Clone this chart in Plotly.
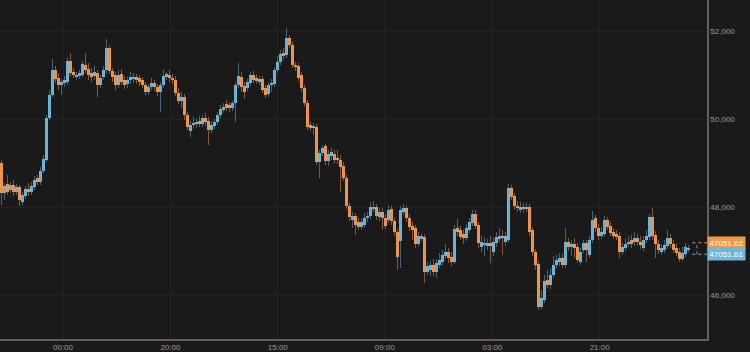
import plotly.graph_objects as go

# ---------------- data ----------------
OPEN = [49000,48318,48523,48386,48500,48341,48455,48114,48250,48409,48341,48455,48659,48568,48818,49068,50023,50545,51114,50932,
        50773,50818,50841,51318,51068,50955,50977,51000,51227,51136,51045,50977,51045,50773,50955,51114,51614,51091,51000,50773,
        51023,50886,50796,50886,50909,50955,50932,50886,50773,50614,50727,50818,50727,50614,50773,50977,51000,50932,50886,50591,
        50409,50500,50091,49727,49864,49886,49955,49886,50023,49955,49750,49841,49932,50091,50205,50341,50318,50250,50364,50773,
        50955,50750,50705,50818,51000,50932,50841,50909,50705,50568,50773,50796,51114,51296,51500,51455,51841,51682,51227,51205,
        51000,50705,50364,49864,49795,49818,49023,49227,49386,49045,49159,49205,49114,49068,48932,48659,48023,47705,47795,47659,
        47545,47591,47750,47795,47955,48000,47773,47886,47750,47705,47955,47682,47432,47227,47886,47977,47750,47568,47523,47159,
        47295,47318,46523,46568,46682,46523,46682,46750,46886,46977,46864,46750,47523,47477,47386,47295,47477,47636,47841,47591,
        47091,47136,47114,47182,46977,47182,47273,47341,47205,47250,48432,48250,48023,47932,48000,47955,48000,47477,46977,46705,
        45727,45886,46341,46227,46455,46682,46750,46841,46682,47205,47091,47159,47091,46750,47023,47182,46909,47250,47750,47523,
        47341,47386,47705,47568,47432,47386,47341,46977,47068,47159,47250,47205,47295,47205,47068,47250,47318,47773,47364,47159,
        46977,47023,47114,47295,47159,47068,46977,46818,46932,47023]
HIGH = [49068,48545,48727,48568,48614,48523,48500,48341,48477,48545,48568,48705,48727,48909,49182,50091,50659,51364,51205,51045,
        50909,50977,51386,51500,51159,51068,51114,51318,51500,51273,51159,51205,51114,51000,51205,51818,51682,51159,51068,51114,
        51136,50977,50955,51068,51045,51023,51000,50955,50841,50796,50932,50886,50796,50841,51136,51068,51114,51023,50977,50705,
        50614,50568,50159,49955,50045,50023,50068,50091,50136,50045,49955,50000,50159,50318,50364,50432,50386,50409,50841,51273,
        51068,50841,50909,51068,51091,51023,50977,50977,50773,50841,50909,51182,51432,51568,51614,52069,51909,51750,51296,51273,
        51068,50773,50432,49932,49909,49886,49295,49409,49432,49295,49341,49295,49295,49182,49023,48727,48091,47886,47864,47750,
        47727,47864,47886,48114,48136,48068,47977,47977,47841,48045,48023,47750,47500,48023,48068,48045,47841,47659,47591,47432,
        47409,47386,46750,46773,46818,46818,46955,47023,47159,47068,46977,47591,47727,47568,47477,47614,47750,47932,47932,47659,
        47341,47318,47273,47341,47295,47432,47523,47477,47432,48523,48500,48318,48136,48114,48091,48091,48068,47545,47045,46773,
        46114,46455,46568,46614,46886,46909,46955,46932,47523,47295,47250,47295,47182,47068,47250,47250,47341,47909,47818,47614,
        47545,47795,47773,47659,47523,47477,47432,47182,47295,47341,47364,47432,47386,47341,47341,47477,47841,47977,47455,47250,
        47159,47250,47477,47386,47250,47182,47068,47091,47182,47136]
LOW = [48045,48159,48273,48318,48250,48273,48023,48045,48182,48250,48273,48386,48500,48500,48773,49023,49977,50500,50818,50659,
       50545,50727,50773,50977,50932,50886,50909,50955,51045,50886,50841,50886,50500,50705,50886,51045,51023,50841,50659,50705,
       50773,50682,50705,50796,50818,50796,50750,50705,50545,50545,50659,50636,50523,50159,50705,50886,50841,50796,50523,50341,
       50250,49977,49750,49591,49773,49795,49818,49818,49841,49409,49682,49773,49864,50023,50136,50182,50159,50182,49932,50705,
       50614,50455,50636,50750,50818,50796,50773,50591,50477,50500,50614,50727,51045,51227,51341,51386,51614,51159,51091,50864,
       50614,50295,49750,49727,49636,48955,48659,49159,48955,48932,49068,49000,48977,48341,48591,47955,47682,47523,47364,47477,
       47477,47523,47659,47727,47886,47705,47682,47477,47500,47636,47591,47341,46568,46614,47818,47659,47455,47250,47068,47091,
       47227,46273,46455,46432,46432,46386,46614,46682,46818,46727,46659,46705,47341,47250,47159,47227,47409,47568,47500,47068,
       46977,46886,47023,46727,46886,47091,47205,46909,47114,47182,48159,47932,47886,47864,47864,47886,47341,46886,46568,45659,
       45682,45818,46159,46136,46386,46614,46659,46614,46614,47000,46886,46841,46727,46682,46955,46750,46841,47182,47432,47250,
       47273,47318,47477,47341,47273,47250,46841,46909,47000,47091,47068,47114,47114,47045,47000,47182,47250,47250,46841,46932,
       46909,46955,47045,47068,46955,46886,46750,46773,46864,46977]
CLOSE = [48318,48477,48341,48500,48341,48455,48159,48273,48409,48341,48477,48614,48568,48818,49091,50023,50545,51114,50909,50773,
         50841,50886,51318,51045,51000,51000,51045,51250,51114,51000,50955,51068,50773,50932,51114,51614,51091,50955,50773,51000,
         50841,50773,50886,50955,50955,50886,50841,50773,50614,50727,50818,50727,50614,50773,50977,51000,50932,50886,50591,50409,
         50500,50091,49818,49864,49909,49932,49886,50023,49932,49750,49864,49932,50091,50227,50273,50250,50250,50364,50773,50977,
         50727,50614,50841,51000,50886,50864,50909,50659,50545,50773,50818,51114,51296,51477,51432,51841,51682,51227,51182,50932,
         50705,50364,49818,49795,49841,49023,49227,49341,49045,49205,49250,49068,49068,48909,48659,48023,47773,47795,47591,47545,
         47659,47750,47795,48000,48000,47795,47886,47750,47568,47932,47682,47432,46864,47932,47977,47750,47545,47477,47159,47341,
         47318,46523,46659,46682,46523,46727,46795,46909,46977,46841,46750,47500,47432,47318,47295,47523,47659,47841,47568,47182,
         47205,47182,47182,47114,47205,47318,47341,47295,47341,48432,48227,48023,47977,48000,47955,48000,47432,46977,46682,45727,
         45932,46318,46227,46455,46682,46795,46841,46682,47205,47091,47159,47068,46795,46977,47182,47023,47250,47705,47523,47341,
         47432,47705,47545,47409,47341,47318,46977,47091,47159,47205,47159,47295,47205,47136,47250,47341,47773,47341,47159,47023,
         47068,47136,47295,47159,47023,46955,46818,46955,47091,47052]

TICK_POS = [20.5, 56.3, 92.1, 127.8, 163.6, 199.4]
TICK_TEXT = ["00:00", "20:00", "15:00", "09:00", "03:00", "21:00"]
Y_TICKS = [46000, 48000, 50000, 52000]
LAST_ASK = 47051.62
LAST_BID = 47051.61

# ---------------- styling ----------------
BG = "#1a1a1a"
GRID = "#222222"
AXIS = "#606060"
TXT = "#9a9a9a"
BLUE = "#72b6d8"
ORANGE = "#f0974c"
BLUE_W = "rgba(100,165,200,0.55)"
ORANGE_W = "rgba(225,140,70,0.55)"
FONT = "Liberation Sans, Arial, sans-serif"

n = len(CLOSE)
xs = list(range(n))
up = [CLOSE[i] >= OPEN[i] for i in xs]

fig = go.Figure()

# wicks
for is_up, col in ((True, BLUE_W), (False, ORANGE_W)):
    wx, wy = [], []
    for i in xs:
        if up[i] == is_up:
            wx += [i, i, None]
            wy += [LOW[i], HIGH[i], None]
    fig.add_trace(go.Scatter(x=wx, y=wy, mode="lines", line=dict(color=col, width=1),
                             hoverinfo="skip", showlegend=False))

# bodies
base = [min(OPEN[i], CLOSE[i]) for i in xs]
height = [max(abs(CLOSE[i] - OPEN[i]), 45) for i in xs]
colors = [BLUE if u else ORANGE for u in up]
fig.add_trace(go.Bar(x=xs, y=height, base=base, width=0.95,
                     marker=dict(color=colors, line=dict(width=0)),
                     showlegend=False, hoverinfo="skip"))

# dashed placeholder for the next candle
x_end = 235.17
fig.add_shape(type="line", xref="x", yref="y", x0=230.3, x1=x_end, y0=LAST_ASK + 135, y1=LAST_ASK + 135,
              line=dict(color=ORANGE, width=1, dash="dot"))
fig.add_shape(type="line", xref="x", yref="y", x0=230.3, x1=x_end, y0=LAST_BID - 125, y1=LAST_BID - 125,
              line=dict(color=BLUE, width=1, dash="dot"))
fig.add_shape(type="line", xref="x", yref="y", x0=231.8, x1=231.8, y0=LAST_BID - 125, y1=LAST_ASK + 135,
              line=dict(color="#8a8a8a", width=1, dash="dot"))

# price labels
fig.add_annotation(x=1, xref="paper", xanchor="left", y=LAST_ASK, yref="y", yshift=5.5,
                   text=f"{LAST_ASK:.2f}", showarrow=False, bgcolor=ORANGE, borderpad=1.5,
                   font=dict(color="#ffffff", size=8, family=FONT))
fig.add_annotation(x=1, xref="paper", xanchor="left", y=LAST_BID, yref="y", yshift=-5.5,
                   text=f"{LAST_BID:.2f}", showarrow=False, bgcolor=BLUE, borderpad=1.5,
                   font=dict(color="#ffffff", size=8, family=FONT))

fig.update_layout(
    width=750, height=352,
    margin=dict(l=0, r=43, t=0, b=13),
    paper_bgcolor=BG, plot_bgcolor=BG,
    showlegend=False, bargap=0,
    font=dict(family=FONT, color=TXT, size=8),
    xaxis=dict(range=[-0.5, x_end], tickvals=TICK_POS, ticktext=TICK_TEXT,
               showgrid=True, gridcolor=GRID, gridwidth=1, zeroline=False,
               showline=True, linecolor=AXIS, linewidth=1.5, ticks="",
               tickfont=dict(size=8, color=TXT), fixedrange=True),
    yaxis=dict(side="right", range=[45000, 52704.5], tickvals=Y_TICKS, tickformat=",",
               showgrid=True, gridcolor=GRID, gridwidth=1, zeroline=False,
               showline=True, linecolor=AXIS, linewidth=1.5, ticks="",
               tickfont=dict(size=8, color=TXT), fixedrange=True),
)

fig.write_html("out.html")
